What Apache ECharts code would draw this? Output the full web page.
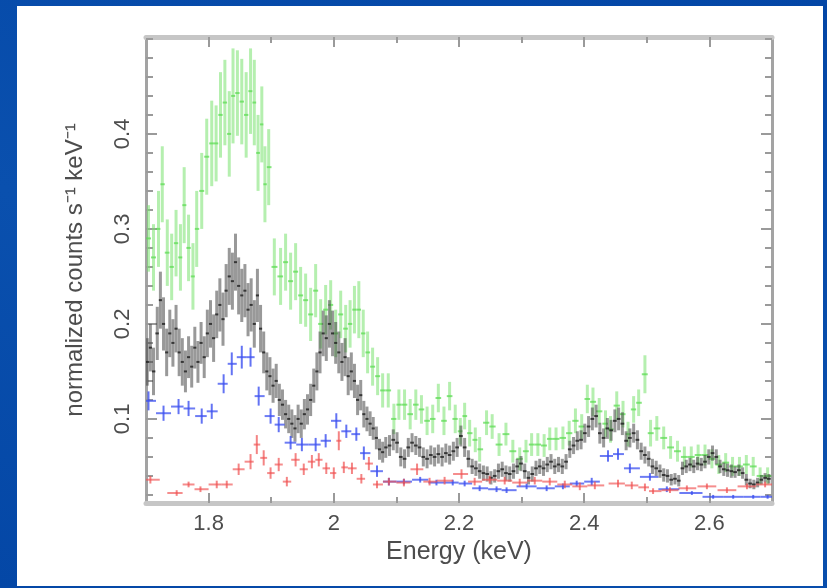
<!DOCTYPE html>
<html><head><meta charset="utf-8">
<script src="https://cdn.jsdelivr.net/npm/echarts@6/dist/echarts.min.js"></script>
<style>
html,body{margin:0;padding:0;width:827px;height:588px;overflow:hidden;background:#0447a6;}
#bg{position:absolute;left:0;top:0;width:827px;height:588px;background:linear-gradient(200deg,#0346a6 0%,#0a50ae 55%,#0447a6 100%);}
#panel{position:absolute;left:17px;top:6px;width:806px;height:580px;background:#fff;}
#chart{position:absolute;left:0;top:0;width:827px;height:588px;}
</style></head><body>
<div id="bg"></div><div id="panel"></div><div id="chart"></div>
<script>
// ---- tick labels ----
const xTickValues = [1.8, 2.0, 2.2, 2.4, 2.6];
const xTickLabels = ['1.8', '2', '2.2', '2.4', '2.6'];
const xMinorValues = [1.9, 2.1, 2.3, 2.5];
const yTickValues = [0.1, 0.2, 0.3, 0.4];
const yTickLabels = ['0.1', '0.2', '0.3', '0.4'];
const yMinorValues = [0.02,0.04,0.06,0.08,0.12,0.14,0.16,0.18,0.22,0.24,0.26,0.28,0.32,0.34,0.36,0.38,0.42,0.44,0.46,0.48,0.5];
const xTitle = 'Energy (keV)';
const yTitle = 'normalized counts s\u207B\u00B9 keV\u207B\u00B9';

// ---- green series ----
const greenE = [
1.704,1.712,1.720,1.726,1.734,1.741,1.748,1.755,1.761,1.768,
1.775,1.781,1.789,1.797,1.805,1.812,1.819,1.826,1.833,1.839,
1.846,1.853,1.860,1.867,1.873,1.879,1.885,1.890,1.896,1.905,
1.915,1.923,1.931,1.939,1.947,1.955,1.963,1.971,1.979,1.987,
1.995,2.003,2.011,2.019,2.026,2.033,2.040,2.047,2.054,2.062,
2.070,2.078,2.087,2.096,2.104,2.113,2.122,2.131,2.140,2.149,
2.158,2.167,2.176,2.185,2.194,2.202,2.209,2.217,2.226,2.233,
2.244,2.253,2.264,2.275,2.286,2.297,2.307,2.316,2.326,2.336,
2.345,2.355,2.366,2.376,2.386,2.396,2.405,2.414,2.424,2.434,
2.442,2.452,2.462,2.470,2.479,2.487,2.497,2.506,2.516,2.527,
2.538,2.549,2.560,2.571,2.582,2.593,2.604,2.615,2.626,2.637,
2.648,2.659,2.670,2.681,2.693];
const greenV = [
0.29,0.27,0.30,0.347,0.275,0.26,0.285,0.27,0.325,0.28,
0.25,0.30,0.34,0.376,0.39,0.39,0.42,0.433,0.40,0.44,
0.443,0.434,0.42,0.445,0.433,0.38,0.41,0.347,0.365,0.26,
0.25,0.265,0.245,0.255,0.23,0.225,0.21,0.235,0.20,0.215,
0.22,0.19,0.21,0.195,0.20,0.215,0.215,0.19,0.17,0.155,
0.145,0.13,0.13,0.10,0.115,0.115,0.105,0.115,0.11,0.098,
0.10,0.122,0.098,0.124,0.10,0.087,0.103,0.085,0.078,0.068,
0.096,0.092,0.073,0.084,0.066,0.058,0.066,0.073,0.073,0.072,
0.079,0.079,0.08,0.085,0.098,0.092,0.121,0.118,0.108,0.095,
0.089,0.114,0.105,0.084,0.11,0.117,0.147,0.085,0.09,0.08,
0.07,0.066,0.06,0.06,0.062,0.062,0.058,0.052,0.054,0.05,
0.05,0.052,0.05,0.04,0.04];
const greenErr = [
0.035,0.035,0.04,0.04,0.035,0.035,0.035,0.035,0.04,0.035,
0.035,0.04,0.04,0.04,0.045,0.04,0.045,0.045,0.045,0.05,
0.045,0.045,0.045,0.045,0.045,0.04,0.04,0.04,0.04,0.03,
0.03,0.03,0.03,0.03,0.03,0.028,0.028,0.028,0.026,0.026,
0.026,0.025,0.025,0.025,0.025,0.025,0.03,0.025,0.022,0.02,
0.02,0.018,0.018,0.016,0.016,0.016,0.016,0.016,0.015,0.015,
0.015,0.015,0.015,0.015,0.015,0.014,0.014,0.014,0.013,0.013,
0.013,0.013,0.012,0.012,0.012,0.012,0.012,0.012,0.012,0.012,
0.012,0.012,0.012,0.013,0.013,0.013,0.015,0.015,0.014,0.014,
0.014,0.015,0.014,0.013,0.014,0.014,0.02,0.014,0.013,0.012,
0.012,0.011,0.011,0.011,0.011,0.011,0.01,0.01,0.01,0.01,
0.01,0.01,0.01,0.009,0.009];

// ---- black series ----
const blackE = [
1.702,1.707,1.712,1.718,1.723,1.728,1.733,1.738,1.743,1.748,
1.753,1.758,1.763,1.768,1.773,1.778,1.783,1.788,1.793,1.798,
1.803,1.808,1.813,1.818,1.823,1.828,1.833,1.838,1.843,1.848,
1.853,1.858,1.863,1.868,1.873,1.878,1.883,1.888,1.893,1.898,
1.903,1.908,1.913,1.918,1.923,1.928,1.933,1.938,1.943,1.948,
1.953,1.958,1.963,1.968,1.973,1.978,1.983,1.988,1.993,1.998,
2.003,2.008,2.013,2.018,2.023,2.028,2.033,2.038,2.043,2.048,
2.053,2.058,2.063,2.068,2.073,2.078,2.083,2.089,2.095,2.101,
2.107,2.113,2.119,2.125,2.131,2.137,2.143,2.149,2.155,2.161,
2.167,2.173,2.179,2.185,2.191,2.197,2.203,2.209,2.215,2.221,
2.227,2.233,2.239,2.245,2.251,2.257,2.263,2.269,2.275,2.281,
2.287,2.293,2.299,2.305,2.311,2.317,2.323,2.329,2.335,2.341,
2.347,2.353,2.359,2.365,2.371,2.377,2.383,2.389,2.395,2.401,
2.407,2.413,2.419,2.425,2.431,2.437,2.443,2.449,2.455,2.461,
2.467,2.473,2.479,2.485,2.491,2.497,2.503,2.509,2.515,2.521,
2.527,2.533,2.539,2.545,2.551,2.557,2.563,2.569,2.575,2.581,
2.587,2.593,2.599,2.605,2.611,2.617,2.623,2.629,2.635,2.641,
2.647,2.653,2.659,2.665,2.671,2.677,2.683,2.689,2.695];
const blackV = [
0.16,0.175,0.15,0.19,0.225,0.20,0.17,0.19,0.18,0.195,
0.17,0.16,0.15,0.165,0.155,0.175,0.16,0.18,0.165,0.19,
0.20,0.185,0.21,0.22,0.205,0.235,0.25,0.245,0.265,0.24,
0.23,0.235,0.215,0.22,0.20,0.23,0.195,0.17,0.15,0.145,
0.135,0.14,0.12,0.115,0.105,0.10,0.095,0.09,0.10,0.095,
0.105,0.11,0.12,0.135,0.15,0.17,0.19,0.185,0.20,0.19,
0.18,0.17,0.16,0.165,0.145,0.15,0.14,0.12,0.125,0.105,
0.10,0.095,0.09,0.08,0.068,0.065,0.07,0.072,0.078,0.075,
0.06,0.058,0.07,0.075,0.072,0.07,0.06,0.058,0.062,0.06,
0.063,0.06,0.064,0.062,0.066,0.07,0.082,0.07,0.058,0.05,
0.048,0.045,0.043,0.042,0.038,0.04,0.045,0.047,0.043,0.042,
0.045,0.05,0.053,0.045,0.038,0.042,0.048,0.05,0.048,0.052,
0.055,0.05,0.052,0.05,0.055,0.068,0.072,0.077,0.078,0.085,
0.092,0.10,0.103,0.085,0.08,0.09,0.088,0.098,0.10,0.095,
0.077,0.08,0.085,0.078,0.066,0.062,0.058,0.05,0.048,0.045,
0.041,0.04,0.036,0.037,0.035,0.048,0.05,0.052,0.05,0.053,
0.052,0.055,0.06,0.064,0.06,0.05,0.047,0.046,0.045,0.044,
0.046,0.043,0.036,0.032,0.031,0.033,0.036,0.038,0.037];
const blackErr = [
0.025,0.025,0.025,0.028,0.03,0.028,0.025,0.025,0.025,0.025,
0.025,0.025,0.022,0.022,0.022,0.022,0.022,0.022,0.022,0.025,
0.025,0.025,0.025,0.028,0.028,0.028,0.03,0.03,0.03,0.03,
0.028,0.028,0.028,0.028,0.025,0.028,0.025,0.022,0.02,0.02,
0.018,0.018,0.017,0.016,0.015,0.015,0.015,0.014,0.015,0.015,
0.016,0.016,0.017,0.018,0.02,0.022,0.024,0.024,0.025,0.024,
0.022,0.022,0.02,0.02,0.02,0.02,0.018,0.016,0.016,0.014,
0.013,0.013,0.012,0.012,0.011,0.011,0.011,0.011,0.011,0.011,
0.01,0.01,0.01,0.01,0.01,0.01,0.01,0.01,0.01,0.01,
0.01,0.01,0.01,0.01,0.01,0.01,0.011,0.01,0.009,0.008,
0.008,0.008,0.008,0.008,0.007,0.007,0.008,0.008,0.008,0.008,
0.008,0.008,0.008,0.008,0.007,0.008,0.008,0.008,0.008,0.008,
0.008,0.008,0.008,0.008,0.008,0.009,0.009,0.01,0.01,0.01,
0.011,0.012,0.012,0.011,0.01,0.011,0.011,0.012,0.012,0.012,
0.01,0.01,0.01,0.01,0.009,0.009,0.008,0.008,0.008,0.007,
0.007,0.007,0.006,0.006,0.006,0.007,0.007,0.007,0.007,0.007,
0.007,0.007,0.008,0.008,0.008,0.007,0.007,0.007,0.007,0.006,
0.006,0.006,0.006,0.005,0.005,0.005,0.005,0.005,0.005];

// ---- blue series ----
const blueE = [1.704,1.728,1.752,1.768,1.789,1.805,1.824,1.837,1.853,1.867,
1.880,1.899,1.912,1.931,1.949,1.971,1.987,2.004,2.020,2.036,
2.048,2.069,2.088,2.112,2.138,2.164,2.190,2.209,2.233,2.260,
2.276,2.308,2.340,2.366,2.388,2.412,2.438,2.454,2.473,2.505,
2.532,2.572,2.606,2.638,2.670,2.693];
const blueV = [0.119,0.106,0.113,0.111,0.103,0.108,0.137,0.158,0.165,0.165,
0.124,0.103,0.094,0.075,0.073,0.073,0.077,0.098,0.087,0.084,
0.064,0.045,0.034,0.034,0.036,0.033,0.033,0.032,0.027,0.026,
0.025,0.029,0.027,0.029,0.032,0.034,0.061,0.063,0.048,0.039,
0.026,0.022,0.018,0.018,0.018,0.018];
const blueErr = [0.01,0.008,0.008,0.008,0.008,0.008,0.01,0.012,0.012,0.01,
0.01,0.008,0.008,0.007,0.007,0.007,0.007,0.008,0.007,0.007,
0.007,0.006,0.004,0.003,0.003,0.003,0.003,0.003,0.003,0.003,
0.003,0.003,0.003,0.003,0.003,0.004,0.006,0.006,0.005,0.004,
0.003,0.002,0.002,0.002,0.002,0.002];

// ---- red series ----
const redE = [1.707,1.749,1.768,1.787,1.813,1.829,1.848,1.867,1.877,1.888,
1.899,1.912,1.925,1.939,1.952,1.965,1.976,1.988,2.000,2.008,
2.016,2.029,2.044,2.056,2.069,2.088,2.112,2.133,2.153,2.177,
2.204,2.225,2.249,2.273,2.297,2.321,2.345,2.369,2.393,2.417,
2.454,2.476,2.497,2.510,2.537,2.564,2.596,2.628,2.660,2.689];
const redV = [0.036,0.022,0.031,0.026,0.031,0.031,0.047,0.055,0.073,0.059,
0.043,0.052,0.034,0.057,0.047,0.055,0.057,0.048,0.043,0.077,
0.049,0.048,0.037,0.053,0.031,0.034,0.033,0.047,0.034,0.035,
0.042,0.034,0.036,0.035,0.033,0.035,0.034,0.031,0.029,0.03,
0.032,0.03,0.028,0.024,0.025,0.027,0.029,0.025,0.029,0.031];
const redErr = [0.004,0.003,0.003,0.003,0.004,0.004,0.006,0.008,0.01,0.008,
0.006,0.007,0.005,0.007,0.006,0.007,0.007,0.006,0.006,0.01,
0.006,0.006,0.005,0.007,0.004,0.004,0.004,0.006,0.004,0.004,
0.005,0.004,0.004,0.004,0.004,0.004,0.004,0.004,0.004,0.004,
0.004,0.004,0.004,0.003,0.003,0.003,0.003,0.003,0.003,0.003];

const X_MIN = 1.7, X_MAX = 2.7, Y_MIN = 0.0115, Y_MAX = 0.502;
const FONT = '"Liberation Sans", Arial, sans-serif';
const TXT = '#4d4d4d';

function buildData(E, V, ERR, maxHalf) {
  const out = [];
  for (let i = 0; i < E.length; i++) {
    const prev = i > 0 ? E[i - 1] : null, next = i < E.length - 1 ? E[i + 1] : null;
    let hl = prev !== null ? (E[i] - prev) / 2 : (next - E[i]) / 2;
    let hr = next !== null ? (next - E[i]) / 2 : (E[i] - prev) / 2;
    if (maxHalf) { hl = Math.min(hl, maxHalf); hr = Math.min(hr, maxHalf); }
    out.push([E[i], V[i], E[i] - hl, E[i] + hr, ERR[i]]);
  }
  return out;
}

function makeSeries(name, data, vStroke, vWidth, hStroke, hWidth) {
  return {
    type: 'custom', name: name, xAxisIndex: 0, yAxisIndex: 0, clip: true,
    data: data, encode: { x: 0, y: 1 },
    renderItem: function (params, api) {
      const x = api.value(0), y = api.value(1), xl = api.value(2), xr = api.value(3), e = api.value(4);
      const c = api.coord([x, y]), l = api.coord([xl, y]), r = api.coord([xr, y]);
      const t = api.coord([x, y + e]), b = api.coord([x, y - e]);
      return { type: 'group', children: [
        { type: 'line', shape: { x1: c[0], y1: t[1], x2: c[0], y2: b[1] }, style: { stroke: vStroke, lineWidth: vWidth } },
        { type: 'line', shape: { x1: l[0], y1: c[1], x2: r[0], y2: c[1] }, style: { stroke: hStroke, lineWidth: hWidth } }
      ] };
    }
  };
}

const chart = echarts.init(document.getElementById('chart'), null, { renderer: 'canvas' });
const frameV = { color: '#a3a3a3', width: 3 };
const frameH = { color: '#c6c6c6', width: 5 };
const tickStyle = { color: '#9a9a9a', width: 2 };

chart.setOption({
  backgroundColor: 'transparent',
  animation: false,
  grid: { left: 146, right: 55, top: 37, bottom: 85, containLabel: false },
  xAxis: [
    { type: 'value', min: X_MIN, max: X_MAX, position: 'bottom',
      axisLine: { show: true, lineStyle: frameH },
      axisTick: { show: true, inside: true, length: 10, customValues: xTickValues, lineStyle: tickStyle },
      axisLabel: { show: true, customValues: xTickValues, margin: 10, fontSize: 22, color: TXT, fontFamily: FONT,
        formatter: function (v) { const i = xTickValues.findIndex(t => Math.abs(t - v) < 1e-6); return i >= 0 ? xTickLabels[i] : ''; } },
      splitLine: { show: false },
      name: xTitle, nameLocation: 'middle', nameGap: 35,
      nameTextStyle: { fontSize: 25, color: TXT, fontFamily: FONT } },
    { type: 'value', min: X_MIN, max: X_MAX, position: 'bottom',
      axisLine: { show: false }, axisLabel: { show: false }, splitLine: { show: false },
      axisTick: { show: true, inside: true, length: 6, customValues: xMinorValues, lineStyle: tickStyle } },
    { type: 'value', min: X_MIN, max: X_MAX, position: 'top',
      axisLine: { show: true, lineStyle: frameH }, axisLabel: { show: false }, splitLine: { show: false },
      axisTick: { show: true, inside: true, length: 10, customValues: xTickValues, lineStyle: tickStyle } },
    { type: 'value', min: X_MIN, max: X_MAX, position: 'top',
      axisLine: { show: false }, axisLabel: { show: false }, splitLine: { show: false },
      axisTick: { show: true, inside: true, length: 6, customValues: xMinorValues, lineStyle: tickStyle } }
  ],
  yAxis: [
    { type: 'value', min: Y_MIN, max: Y_MAX, position: 'left',
      axisLine: { show: true, lineStyle: frameV },
      axisTick: { show: true, inside: true, length: 11, customValues: yTickValues, lineStyle: tickStyle },
      axisLabel: { show: true, customValues: yTickValues, rotate: 90, margin: 12, fontSize: 22, color: TXT, fontFamily: FONT,
        formatter: function (v) { const i = yTickValues.findIndex(t => Math.abs(t - v) < 1e-6); return i >= 0 ? yTickLabels[i] : ''; } },
      splitLine: { show: false },
      name: yTitle, nameLocation: 'middle', nameGap: 59, nameRotate: 90,
      nameTextStyle: { fontSize: 24, color: TXT, fontFamily: FONT } },
    { type: 'value', min: Y_MIN, max: Y_MAX, position: 'left',
      axisLine: { show: false }, axisLabel: { show: false }, splitLine: { show: false },
      axisTick: { show: true, inside: true, length: 7, customValues: yMinorValues, lineStyle: tickStyle } },
    { type: 'value', min: Y_MIN, max: Y_MAX, position: 'right',
      axisLine: { show: true, lineStyle: frameV }, axisLabel: { show: false }, splitLine: { show: false },
      axisTick: { show: true, inside: true, length: 11, customValues: yTickValues, lineStyle: tickStyle } },
    { type: 'value', min: Y_MIN, max: Y_MAX, position: 'right',
      axisLine: { show: false }, axisLabel: { show: false }, splitLine: { show: false },
      axisTick: { show: true, inside: true, length: 7, customValues: yMinorValues, lineStyle: tickStyle } }
  ],
  series: [
    makeSeries('green', buildData(greenE, greenV, greenErr), 'rgba(120,225,110,0.55)', 3, 'rgba(95,220,85,0.75)', 2),
    makeSeries('black', buildData(blackE, blackV, blackErr), 'rgba(70,70,70,0.55)', 3, 'rgba(30,30,30,0.8)', 2),
    makeSeries('blue', buildData(blueE, blueV, blueErr), 'rgba(60,80,240,0.8)', 2, 'rgba(60,80,240,0.75)', 2),
    makeSeries('red', buildData(redE, redV, redErr, 0.015), 'rgba(240,80,80,0.7)', 2, 'rgba(240,80,80,0.65)', 2)
  ]
});
</script></body></html>
